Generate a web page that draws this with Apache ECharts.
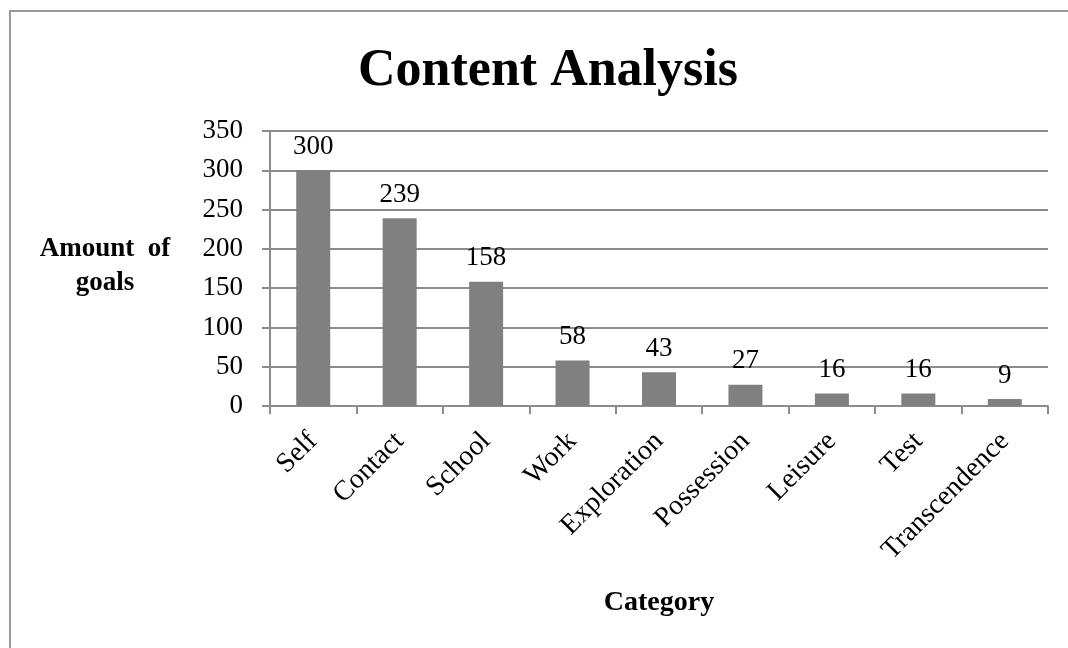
<!DOCTYPE html>
<html><head><meta charset="utf-8">
<script src="https://cdn.jsdelivr.net/npm/echarts@6/dist/echarts.min.js"></script>
<style>
html,body{margin:0;padding:0;background:#fff;}
#frame{position:absolute;left:9px;top:10px;width:1100px;height:700px;border-left:2px solid #9a9a9a;border-top:2px solid #9a9a9a;box-sizing:border-box;}
#c{position:absolute;left:0;top:0;width:1068px;height:648px;}
</style></head>
<body>
<div id="frame"></div>
<div id="c"></div>
<script>
var categories = ['Self','Contact','School','Work','Exploration','Possession','Leisure','Test','Transcendence'];
var values = [300,239,158,58,43,27,16,16,9];
var yTicks = {min:0, max:350, interval:50};

var chart = echarts.init(document.getElementById('c'));
var font = 'Liberation Serif';
chart.setOption({
  animation:false,
  title:{text:'Content Analysis', left:543, top:41, textAlign:'center',
    textStyle:{fontFamily:font, fontWeight:'bold', fontSize:52, color:'#000'}},
  grid:{left:270, right:20, top:131, bottom:242},
  xAxis:{type:'category', data:categories,
    axisLine:{lineStyle:{color:'#8c8c8c', width:2}},
    axisTick:{show:true, length:8, lineStyle:{color:'#8c8c8c', width:2}},
    axisLabel:{rotate:45, fontFamily:font, fontSize:28, color:'#000', margin:31},
    name:'Category', nameLocation:'middle', nameGap:183,
    nameTextStyle:{fontFamily:font, fontWeight:'bold', fontSize:28, color:'#000'}},
  yAxis:{type:'value', min:yTicks.min, max:yTicks.max, interval:yTicks.interval,
    axisLine:{show:true, lineStyle:{color:'#8c8c8c', width:2}},
    axisTick:{show:true, length:8, lineStyle:{color:'#8c8c8c', width:2}},
    axisLabel:{fontFamily:font, fontSize:27, color:'#000', margin:27},
    splitLine:{lineStyle:{color:'#8c8c8c', width:2}}},
  graphic:[{type:'text', x:105, y:232,
    style:{text:'Amount  of\ngoals', align:'center', fontFamily:font, fontWeight:'bold', fontSize:27, fill:'#000', lineHeight:34}}],
  series:[{type:'bar', data:values, barWidth:34,
    itemStyle:{color:'#808080'},
    label:{show:true, position:'top', distance:10, fontFamily:font, fontSize:27, color:'#000'}}]
});
</script>
</body></html>
